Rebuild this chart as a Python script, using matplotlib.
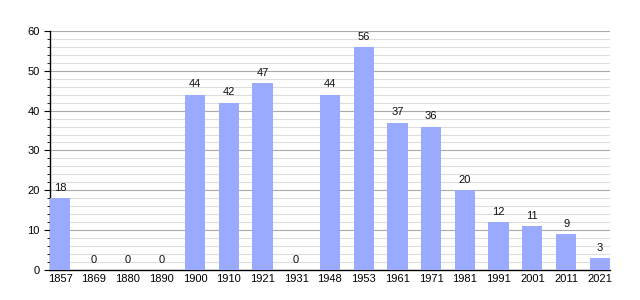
import matplotlib
matplotlib.use("Agg")
import matplotlib.pyplot as plt
import numpy as np

years = ["1857", "1869", "1880", "1890", "1900", "1910", "1921", "1931", "1948",
         "1953", "1961", "1971", "1981", "1991", "2001", "2011", "2021"]
values = [18, 0, 0, 0, 44, 42, 47, 0, 44, 56, 37, 36, 20, 12, 11, 9, 3]

plt.rcParams['font.family'] = ['Liberation Sans', 'DejaVu Sans']
fig = plt.figure(figsize=(6.4, 3.0), dpi=100)
ax = fig.add_axes([0.078, 0.1, 0.875, 0.797])

x = np.arange(len(years))
w = 0.6
ax.bar(x, values, width=w, color="#99aaff", zorder=3)
for xi, v in zip(x, values):
    ax.text(xi, v + 1.3, str(v), ha="center", va="bottom", fontsize=8, color="#111111")

ax.set_xlim(-w / 2, len(years) - 1 + w / 2)
ax.set_ylim(0, 60)
ax.set_yticks(np.arange(0, 61, 10))
ax.set_yticks(np.arange(0, 61, 2), minor=True)
ax.set_xticks(x)
ax.set_xticklabels(years)
ax.tick_params(axis="x", length=0, labelsize=8, pad=3)
ax.tick_params(axis="y", which="major", length=4, labelsize=8, direction="out")
ax.tick_params(axis="y", which="minor", length=2, direction="out")
ax.grid(axis="y", which="major", color="#aaaaaa", linewidth=0.8, zorder=0)
ax.grid(axis="y", which="minor", color="#dddddd", linewidth=0.8, zorder=0)
for s in ["top", "right"]:
    ax.spines[s].set_visible(False)
ax.spines["left"].set_linewidth(1)
ax.spines["bottom"].set_linewidth(1)
ax.set_axisbelow(True)

fig.savefig("out.png", dpi=100)
